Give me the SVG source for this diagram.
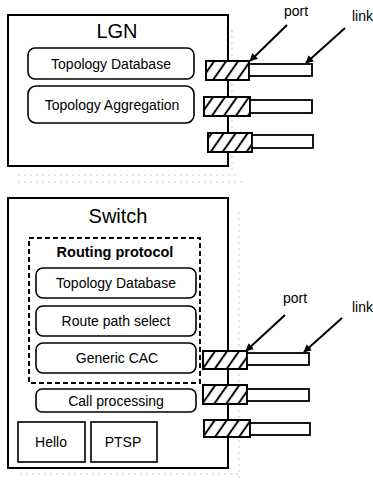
<svg xmlns="http://www.w3.org/2000/svg" width="373" height="481" viewBox="0 0 373 481">
<defs>
<pattern id="hatch" patternUnits="userSpaceOnUse" width="12" height="20" patternTransform="skewX(-35)">
<rect width="12" height="20" fill="#fff"/>
<line x1="5" y1="-2" x2="5" y2="22" stroke="#000" stroke-width="2.4"/>
</pattern>
<marker id="ah" viewBox="0 0 10 10" refX="9" refY="5" markerWidth="8" markerHeight="8" orient="auto" markerUnits="userSpaceOnUse">
<path d="M0,0 L10,5 L0,10 z" fill="#000"/>
</marker>
</defs>
<style>
text{font-family:"Liberation Sans",Arial,sans-serif;fill:#000}
.outer{fill:#fff;stroke:#000;stroke-width:2}
.mod{fill:#fff;stroke:#000;stroke-width:1.6}
.port{fill:url(#hatch);stroke:#000;stroke-width:2}
.link{fill:#fff;stroke:#000;stroke-width:1.8}
.arr{stroke:#000;stroke-width:2;fill:none;marker-end:url(#ah)}
.dot{stroke:#bbb;stroke-width:0.8;stroke-dasharray:2 4;fill:none}
.lbl{font-size:14px;text-anchor:middle}
.title{font-size:20px;text-anchor:middle}
.small{font-size:14px}
</style>
<g id="artifacts">
<line class="dot" x1="232" y1="30" x2="232" y2="170"/>
<line class="dot" x1="18" y1="175" x2="240" y2="175"/>
<line class="dot" x1="18" y1="182" x2="245" y2="182"/>
<line class="dot" x1="239" y1="212" x2="239" y2="478"/>
<line class="dot" x1="20" y1="474" x2="240" y2="474"/>
</g>
<g id="lgn">
<rect class="outer" x="8" y="15" width="220" height="151"/>
<text class="title" x="117" y="38">LGN</text>
</g>
<g id="lgn-topology-database">
<rect class="mod" x="28" y="48" width="166" height="31" rx="7"/>
<text class="lbl" x="111" y="68.5">Topology Database</text>
</g>
<g id="lgn-topology-aggregation">
<rect class="mod" x="28" y="86" width="166" height="37" rx="8"/>
<text class="lbl" x="112" y="109.5">Topology Aggregation</text>
</g>
<g id="lgn-port1"><rect class="port" x="206" y="61" width="43" height="19"/></g>
<g id="lgn-link1"><rect class="link" x="249" y="64" width="63" height="12"/></g>
<g id="lgn-port2"><rect class="port" x="204" y="97" width="46" height="19"/></g>
<g id="lgn-link2"><rect class="link" x="250" y="100" width="62" height="13"/></g>
<g id="lgn-port3"><rect class="port" x="208" y="133" width="44" height="19"/></g>
<g id="lgn-link3"><rect class="link" x="252" y="135" width="61" height="13"/></g>
<g id="lgn-port-label"><text class="small" x="284" y="16">port</text></g>
<g id="lgn-link-label"><text class="small" x="352" y="21">link</text></g>

<g id="switch">
<rect class="outer" x="8" y="198" width="220" height="270"/>
<text class="title" x="118" y="223">Switch</text>
</g>
<g id="routing-protocol">
<rect x="29" y="238" width="171" height="145" fill="none" stroke="#000" stroke-width="2" stroke-dasharray="5 3"/>
<text x="115" y="257" font-size="14.5" font-weight="bold" text-anchor="middle">Routing protocol</text>
</g>
<g id="sw-topology-database">
<rect class="mod" x="36" y="268" width="160" height="30" rx="7"/>
<text class="lbl" x="116" y="288">Topology Database</text>
</g>
<g id="route-path-select">
<rect class="mod" x="36" y="306" width="160" height="30" rx="7"/>
<text class="lbl" x="116" y="326">Route path select</text>
</g>
<g id="generic-cac">
<rect class="mod" x="36" y="343" width="160" height="30" rx="7"/>
<text class="lbl" x="117" y="363">Generic CAC</text>
</g>
<g id="call-processing">
<rect class="mod" x="36" y="389" width="160" height="23" rx="6"/>
<text class="lbl" x="116" y="405.5">Call processing</text>
</g>
<g id="hello">
<rect class="mod" x="18" y="422" width="67" height="40"/>
<text class="lbl" x="51" y="447">Hello</text>
</g>
<g id="ptsp">
<rect class="mod" x="91" y="422" width="66" height="40"/>
<text class="lbl" x="123" y="447">PTSP</text>
</g>
<g id="sw-port1"><rect class="port" x="203" y="351" width="44" height="18"/></g>
<g id="sw-link1"><rect class="link" x="247" y="353" width="62" height="12"/></g>
<g id="sw-port2"><rect class="port" x="203" y="385" width="44" height="19"/></g>
<g id="sw-link2"><rect class="link" x="247" y="389" width="62" height="12"/></g>
<g id="sw-port3"><rect class="port" x="204" y="420" width="46" height="17"/></g>
<g id="sw-link3"><rect class="link" x="250" y="423" width="60" height="12"/></g>
<g id="sw-port-label"><text class="small" x="283" y="303">port</text></g>
<g id="sw-link-label"><text class="small" x="352" y="312">link</text></g>

<g id="connectors">
<line class="arr" x1="287" y1="25" x2="250" y2="61"/>
<line class="arr" x1="345" y1="28" x2="306" y2="63"/>
<line class="arr" x1="285" y1="315" x2="246" y2="351"/>
<line class="arr" x1="342" y1="318" x2="304" y2="352"/>
</g>
</svg>
